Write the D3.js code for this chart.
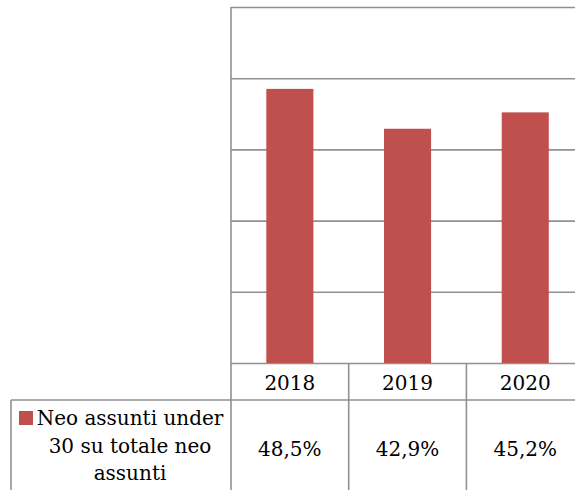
<!DOCTYPE html>
<meta charset="utf-8">
<script src="https://d3js.org/d3.v7.min.js"></script>
<style>
  body { margin: 0; background: #fff; }
  text { font-family: "DejaVu Serif", serif; fill: #000; }
</style>
<div id="chart"></div>
<script>
// Data
var years = ["2018", "2019", "2020"];
var values = [0.485, 0.429, 0.452];
var valueLabels = ["48,5%", "42,9%", "45,2%"];
var seriesName = ["Neo assunti under", "30 su totale neo", "assunti"];
var yTicks = [0.1, 0.2, 0.3, 0.4, 0.5, 0.6];

var W = 575, H = 490;
var plotLeft = 231, plotTop = 7, plotBottom = 363;
var step = 117.7;
var plotRight = plotLeft + step * years.length;
var rowYear = 400;      // bottom of the year row
var tableLeft = 11;
var lineColor = "#919191";
var barColor = "#C0504D";

var svg = d3.select("#chart").append("svg")
    .attr("width", W)
    .attr("height", H);

// Scales
var x = d3.scaleBand().domain(years).range([plotLeft, plotRight])
    .paddingInner(0.6).paddingOuter(0.3);
var y = d3.scaleLinear().domain([0.1, 0.6]).range([plotBottom, plotTop]);

// Gridlines (no labels shown)
var grid = svg.append("g")
    .attr("transform", "translate(" + plotLeft + ",0)")
    .call(d3.axisLeft(y).tickValues(yTicks).tickSize(-(plotRight - plotLeft)).tickFormat(""));
grid.select(".domain").remove();
grid.selectAll("line").attr("stroke", lineColor).attr("stroke-width", 1.6);

// Bars
svg.append("g").selectAll("rect")
    .data(values)
    .join("rect")
    .attr("x", function(d, i) { return x(years[i]); })
    .attr("y", function(d) { return y(d); })
    .attr("width", x.bandwidth())
    .attr("height", function(d) { return y(0.1) - y(d); })
    .attr("fill", barColor);

// Data table lines
var t = svg.append("g").attr("stroke", lineColor).attr("stroke-width", 1.6);
// vertical axis line, extends through the table
t.append("line").attr("x1", plotLeft).attr("x2", plotLeft).attr("y1", plotTop).attr("y2", H);
// column dividers
years.forEach(function(d, i) {
  if (i === 0) return;
  var cx = plotLeft + i * step;
  t.append("line").attr("x1", cx).attr("x2", cx).attr("y1", plotBottom).attr("y2", H);
});
// row line under years
t.append("line").attr("x1", tableLeft).attr("x2", W).attr("y1", rowYear).attr("y2", rowYear);
// left border of the series row
t.append("line").attr("x1", tableLeft).attr("x2", tableLeft).attr("y1", rowYear).attr("y2", H);

// Year labels
svg.append("g").selectAll("text")
    .data(years)
    .join("text")
    .attr("x", function(d) { return x(d) + x.bandwidth() / 2; })
    .attr("y", 390)
    .attr("text-anchor", "middle")
    .style("font-size", "20px")
    .text(function(d) { return d; });

// Value labels
svg.append("g").selectAll("text")
    .data(valueLabels)
    .join("text")
    .attr("x", function(d, i) { return x(years[i]) + x.bandwidth() / 2; })
    .attr("y", 456)
    .attr("text-anchor", "middle")
    .style("font-size", "20px")
    .text(function(d) { return d; });

// Series name with legend key
svg.append("rect")
    .attr("x", 19).attr("y", 411)
    .attr("width", 14).attr("height", 14)
    .attr("fill", barColor);

svg.append("g").selectAll("text")
    .data(seriesName)
    .join("text")
    .attr("x", function(d, i) { return i === 0 ? 130 : 130; })
    .attr("y", function(d, i) { return 425 + i * 27.5; })
    .attr("text-anchor", "middle")
    .style("font-size", "20px")
    .text(function(d) { return d; });
</script>
